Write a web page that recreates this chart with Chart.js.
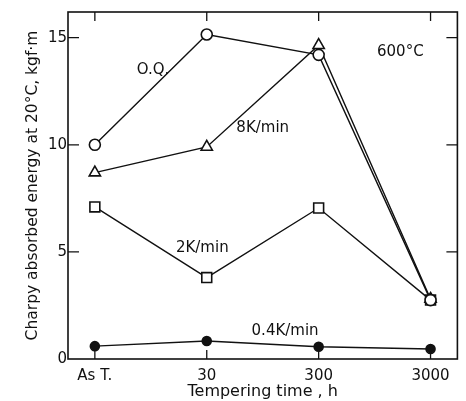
<!DOCTYPE html>
<html>
<head>
<meta charset="utf-8">
<script src="https://cdn.jsdelivr.net/npm/chart.js@4/dist/chart.umd.min.js"></script>
<style>
  html, body { margin: 0; padding: 0; background: #fff; }
  #wrap { width: 466px; height: 401px; }
</style>
</head>
<body>
<div id="wrap"><canvas id="c" width="466" height="401"></canvas></div>
<script>
// tempering time categories
const categories = ['As T.', '30', '300', '3000'];

// Charpy absorbed energy, kgf·m
const oqValues = [10.0, 15.15, 14.2, 2.75];
const k8Values = [8.7, 9.9, 14.65, 2.8];
const k2Values = [7.1, 3.8, 7.05, 2.75];
const k04Values = [0.6, 0.84, 0.57, 0.47];

const yTicks = [0, 5, 10, 15];

// curve labels: [text, x (category index), y (energy)]
const curveLabels = [
    ['O.Q.', 0.52, 13.5],
    ['8K/min', 1.5, 10.8],
    ['2K/min', 0.96, 5.2],
    ['0.4K/min', 1.7, 1.3],
    ['600\u00b0C', 2.73, 14.35]
];

const FONT = '"DejaVu Sans", sans-serif';

const toPoints = vals => vals.map((v, i) => ({ x: i, y: v }));

const series = (label, vals, style, radius, fill) => ({
    label: label,
    data: toPoints(vals),
    borderColor: '#111',
    borderWidth: 1.4,
    pointStyle: style,
    pointRadius: radius,
    pointBorderWidth: 1.6,
    pointBorderColor: '#111',
    pointBackgroundColor: fill,
    tension: 0
});

// frame, inward ticks and curve labels
const decor = {
    id: 'decor',
    afterDraw(chart) {
        const { ctx, chartArea: a, scales } = chart;
        const xs = scales.x, ys = scales.y;
        ctx.save();
        ctx.strokeStyle = '#111';
        ctx.lineWidth = 1.6;
        ctx.strokeRect(a.left, a.top, a.right - a.left, a.bottom - a.top);
        ctx.lineWidth = 1.3;
        ctx.beginPath();
        categories.forEach((c, i) => {
            const px = xs.getPixelForValue(i);
            ctx.moveTo(px, a.bottom); ctx.lineTo(px, a.bottom - 9);
            ctx.moveTo(px, a.top); ctx.lineTo(px, a.top + 9);
        });
        yTicks.forEach(t => {
            if (t === 0) return;
            const py = ys.getPixelForValue(t);
            ctx.moveTo(a.left, py); ctx.lineTo(a.left + 11, py);
            ctx.moveTo(a.right, py); ctx.lineTo(a.right - 11, py);
        });
        ctx.stroke();
        ctx.fillStyle = '#111';
        ctx.font = '15px ' + FONT;
        ctx.textAlign = 'center';
        ctx.textBaseline = 'middle';
        curveLabels.forEach(([txt, x, y]) => {
            ctx.fillText(txt, xs.getPixelForValue(x), ys.getPixelForValue(y));
        });
        ctx.restore();
    }
};

new Chart(document.getElementById('c'), {
    type: 'line',
    data: {
        datasets: [
            series('O.Q.', oqValues, 'circle', 5.5, '#fff'),
            series('8K/min', k8Values, 'triangle', 6.5, '#fff'),
            series('2K/min', k2Values, 'rect', 7, '#fff'),
            series('0.4K/min', k04Values, 'circle', 4.5, '#111')
        ]
    },
    options: {
        responsive: false,
        animation: false,
        layout: { padding: { top: 12, right: 5, left: 24, bottom: 0 } },
        plugins: { legend: { display: false }, tooltip: { enabled: false } },
        scales: {
            x: {
                type: 'linear',
                min: -0.24,
                max: 3.24,
                afterBuildTicks(s) { s.ticks = categories.map((c, i) => ({ value: i })); },
                afterFit(s) { s.height = 42; },
                grid: { display: false },
                border: { display: false },
                ticks: {
                    color: '#111',
                    font: { size: 15, family: FONT },
                    padding: 0,
                    maxRotation: 0,
                    callback: v => categories[v]
                },
                title: {
                    display: true,
                    text: 'Tempering time , h',
                    color: '#111',
                    font: { size: 16, family: FONT },
                    padding: { top: 0, bottom: 0 }
                }
            },
            y: {
                min: 0,
                max: 16.2,
                afterBuildTicks(s) { s.ticks = yTicks.map(v => ({ value: v })); },
                afterFit(s) { s.width = 44; },
                grid: { display: false },
                border: { display: false },
                ticks: {
                    color: '#111',
                    font: { size: 15, family: FONT },
                    padding: -7
                },
                title: {
                    display: true,
                    text: 'Charpy absorbed energy at 20\u00b0C, kgf\u00b7m',
                    color: '#111',
                    font: { size: 15.5, family: FONT },
                    padding: { top: 0, bottom: 2 }
                }
            }
        }
    },
    plugins: [decor]
});
</script>
</body>
</html>
